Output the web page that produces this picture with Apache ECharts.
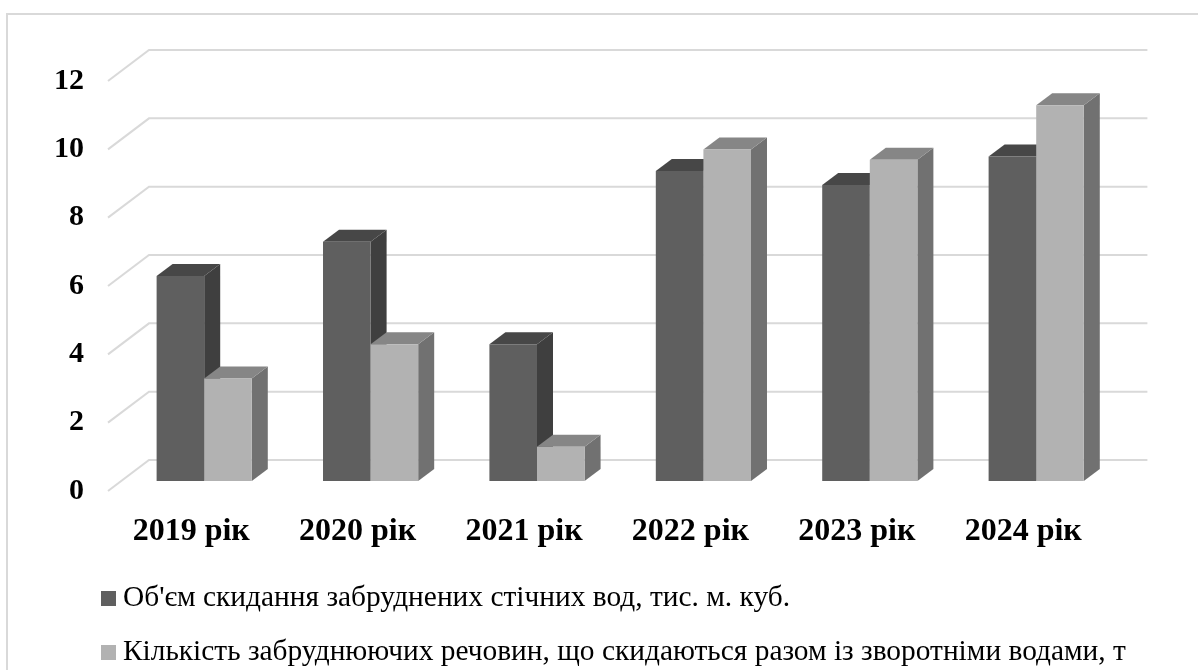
<!DOCTYPE html>
<html>
<head>
<meta charset="utf-8">
<style>
  html, body { margin: 0; padding: 0; background: #fff; }
  #chart { width: 1198px; height: 670px; }
</style>
<script src="https://cdn.jsdelivr.net/npm/echarts@6/dist/echarts.min.js"></script>
</head>
<body>
<div id="chart"></div>
<script>
var categories = ['2019 рік', '2020 рік', '2021 рік', '2022 рік', '2023 рік', '2024 рік'];
var volumeName = "Об'єм скидання забруднених стічних вод, тис. м. куб.";
var volume = [6, 7, 4, 9.07, 8.66, 9.5];
var pollutantsName = 'Кількість забруднюючих речовин, що скидаються разом із зворотніми водами, т';
var pollutants = [3, 4, 1, 9.7, 9.4, 11];
var yTicks = [0, 2, 4, 6, 8, 10, 12];

var font = '"Liberation Serif", "Times New Roman", serif';

// bars stand part way into the floor, the walls go the whole depth
function bar3d(seriesSide, front, top, side) {
  return function (params, api) {
    var base = api.coord([api.value(0), 0]);
    var head = api.coord([api.value(0), api.value(1)]);
    var w = api.size([1, 0])[0] * 0.286;
    var x0 = base[0] + 13 + (seriesSide < 0 ? -w : 0);
    var x1 = x0 + w;
    var y0 = base[1] - 10;
    var y1 = head[1] - 10;
    var dx = 16, dy = 12;
    return {
      type: 'group',
      children: [
        { type: 'polygon', shape: { points: [[x1, y1], [x1 + dx, y1 - dy], [x1 + dx, y0 - dy], [x1, y0]] }, style: { fill: side } },
        { type: 'polygon', shape: { points: [[x0, y1], [x0 + dx, y1 - dy], [x1 + dx, y1 - dy], [x1, y1]] }, style: { fill: top } },
        { type: 'rect', shape: { x: x0, y: y1, width: w, height: y0 - y1 }, style: { fill: front } }
      ]
    };
  };
}

function wallLine(params, api) {
  var p = api.coord([0, api.value(1)]);
  var c = params.coordSys;
  return {
    type: 'polyline',
    shape: { points: [[c.x, p[1]], [c.x + 41, p[1] - 31], [c.x + c.width + 41, p[1] - 31]] },
    style: { stroke: '#d9d9d9', lineWidth: 2, fill: null }
  };
}

function legendRow(name, top) {
  return {
    data: [name],
    left: 96,
    top: top,
    itemWidth: 15,
    itemHeight: 15,
    icon: 'rect',
    selectedMode: false,
    textStyle: { fontFamily: font, fontSize: 29.4, color: '#000', padding: [0, 0, 0, 2] }
  };
}

var chart = echarts.init(document.getElementById('chart'));
chart.setOption({
  animation: false,
  backgroundColor: '#fff',
  graphic: [{
    type: 'rect',
    shape: { x: 7, y: 14, width: 1300, height: 800 },
    style: { fill: null, stroke: '#d9d9d9', lineWidth: 2 },
    silent: true
  }],
  grid: { left: 108, right: 91.6, top: 81, bottom: 179 },
  legend: [legendRow(volumeName, 579), legendRow(pollutantsName, 633)],
  xAxis: {
    type: 'category',
    data: categories,
    axisLine: { show: false },
    axisTick: { show: false },
    axisLabel: { fontFamily: font, fontSize: 32, fontWeight: 'bold', color: '#000', margin: 25 }
  },
  yAxis: {
    type: 'value',
    min: 0,
    max: 12,
    interval: 2,
    axisLine: { show: false },
    axisTick: { show: false },
    splitLine: { show: false },
    axisLabel: { fontFamily: font, fontSize: 30, fontWeight: 'bold', color: '#000', margin: 24 }
  },
  series: [
    {
      type: 'custom',
      name: 'walls',
      silent: true,
      clip: false,
      renderItem: wallLine,
      data: yTicks.map(function (v) { return [0, v]; }),
      encode: { x: 0, y: 1 },
      z: 1
    },
    {
      type: 'custom',
      name: volumeName,
      clip: false,
      itemStyle: { color: '#5f5f5f' },
      renderItem: bar3d(-1, '#5f5f5f', '#474747', '#3f3f3f'),
      data: volume.map(function (v, i) { return [i, v]; }),
      encode: { x: 0, y: 1 },
      z: 2
    },
    {
      type: 'custom',
      name: pollutantsName,
      clip: false,
      itemStyle: { color: '#b2b2b2' },
      renderItem: bar3d(1, '#b2b2b2', '#868686', '#717171'),
      data: pollutants.map(function (v, i) { return [i, v]; }),
      encode: { x: 0, y: 1 },
      z: 3
    }
  ]
});
</script>
</body>
</html>
